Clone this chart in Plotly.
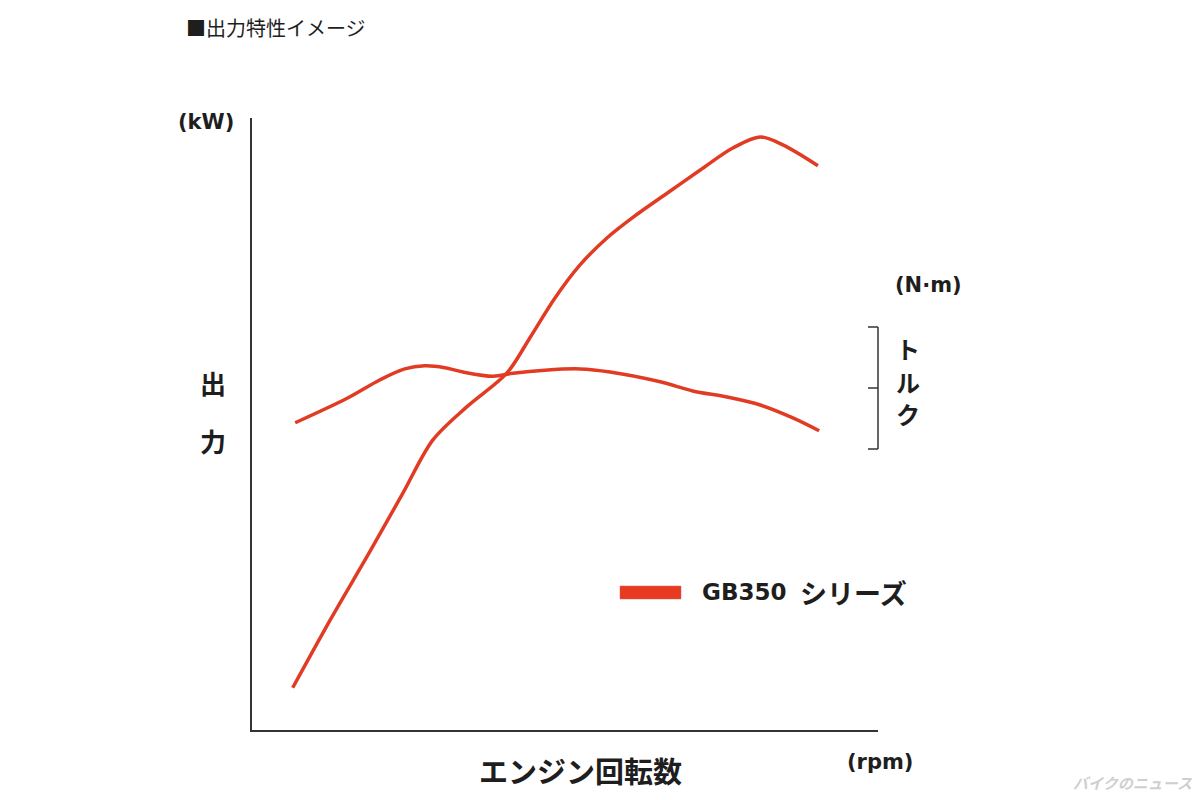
import plotly.graph_objects as go

# ---- data (arbitrary units: x = engine speed 0-100, y = output/torque 0-100) ----
power_rpm = [6.5, 12.5, 18.8, 24.1, 28.9, 34.3, 40.7, 44.4, 48.4, 52.4, 56.7,
             60.9, 66.3, 71.6, 76.8, 81.2, 84.8, 90.4]
power_kw = [6.9, 18.0, 29.1, 38.7, 47.4, 52.8, 58.3, 64.1, 70.6, 76.0, 80.4,
            83.8, 87.7, 91.5, 95.1, 96.9, 95.6, 92.2]

torque_rpm = [6.9, 15.2, 20.4, 24.4, 27.6, 30.8, 33.7, 38.5, 41.7, 46.8, 52.4,
              57.2, 65.2, 70.4, 75.9, 81.2, 86.4, 90.6]
torque_nm = [50.2, 54.2, 57.2, 59.0, 59.5, 59.2, 58.5, 57.8, 58.3, 58.8, 59.0,
             58.5, 56.9, 55.4, 54.4, 53.1, 51.0, 48.9]

series_code = "GB350"
series_suffix = "シリーズ"
title_text = "■出力特性イメージ"
y_unit = "(kW)"
y2_unit = "(N·m)"
x_unit = "(rpm)"
x_label = "エンジン回転数"
y_label_chars = ["出", "力"]
y2_label_chars = ["ト", "ル", "ク"]
watermark = "バイクのニュース"

RED = "#e23b24"
DARK = "#1e1e1e"
JP = "Noto Sans CJK JP, Liberation Sans, sans-serif"
LAT = "DejaVu Sans, Liberation Sans, Noto Sans CJK JP, sans-serif"

# plot-area pixel frame
L, R, T, B = 252, 878, 118, 730
W, H = 1200, 800


def px(x):
    return (x - L) / (R - L)


def py(y):
    return (B - y) / (B - T)


fig = go.Figure()
fig.add_trace(go.Scatter(x=power_rpm, y=power_kw, mode="lines",
                         line=dict(color=RED, width=3.5, shape="spline", smoothing=0.9),
                         name="出力", showlegend=False))
fig.add_trace(go.Scatter(x=torque_rpm, y=torque_nm, mode="lines",
                         line=dict(color=RED, width=3.5, shape="spline", smoothing=0.9),
                         name="トルク", showlegend=False))

axis_common = dict(showgrid=False, zeroline=False, showticklabels=False, ticks="",
                   showline=True, linecolor="#333333", linewidth=2, fixedrange=True)

annotations = []


def ann(text, x, y, size, bold=False, family=JP, color=DARK, xanchor="center", italic=False):
    t = text
    if bold:
        t = "<b>" + t + "</b>"
    if italic:
        t = "<i>" + t + "</i>"
    annotations.append(dict(text=t, x=px(x), y=py(y), xref="paper", yref="paper",
                            showarrow=False, xanchor=xanchor, yanchor="middle",
                            font=dict(size=size, family=family, color=color)))


ann(title_text, 184, 27, 20, family=JP, xanchor="left")
ann(y_unit, 206, 122, 21, bold=True, family=LAT)
ann(y_label_chars[0], 213, 382, 26, bold=True)
ann(y_label_chars[1], 213, 440, 26, bold=True)
ann(y2_unit, 928, 285, 21, bold=True, family=LAT)
for ch, yy in zip(y2_label_chars, [348, 381, 414]):
    ann(ch, 908, yy, 24, bold=True)
ann(x_label, 580, 770, 29, bold=True)
ann(x_unit, 880, 762, 21, bold=True, family=LAT)
ann(series_code, 700, 592, 23, bold=True, family=LAT, xanchor="left")
ann(series_suffix, 798, 592, 27, bold=True, family=JP, xanchor="left")
ann(watermark, 1133, 782, 15, bold=True, color="#cfcfcf", italic=True)

shapes = []
# torque bracket
shapes.append(dict(type="line", xref="paper", yref="paper", x0=px(878), x1=px(878),
                   y0=py(327), y1=py(449), line=dict(color="#333333", width=1.5)))
for yy in [327, 388, 449]:
    shapes.append(dict(type="line", xref="paper", yref="paper", x0=px(868), x1=px(878),
                       y0=py(yy), y1=py(yy), line=dict(color="#333333", width=1.5)))
# legend swatch
shapes.append(dict(type="rect", xref="paper", yref="paper", x0=px(620), x1=px(681),
                   y0=py(599), y1=py(586), fillcolor="#e63b20",
                   line=dict(color="#e06050", width=0.5)))

fig.update_layout(
    width=W, height=H,
    margin=dict(l=L, r=W - R, t=T, b=H - B, pad=0),
    paper_bgcolor="white", plot_bgcolor="white",
    xaxis=dict(range=[0, 100], **axis_common),
    yaxis=dict(range=[0, 100], **axis_common),
    annotations=annotations, shapes=shapes,
    showlegend=False,
)

fig.write_html("out.html")
